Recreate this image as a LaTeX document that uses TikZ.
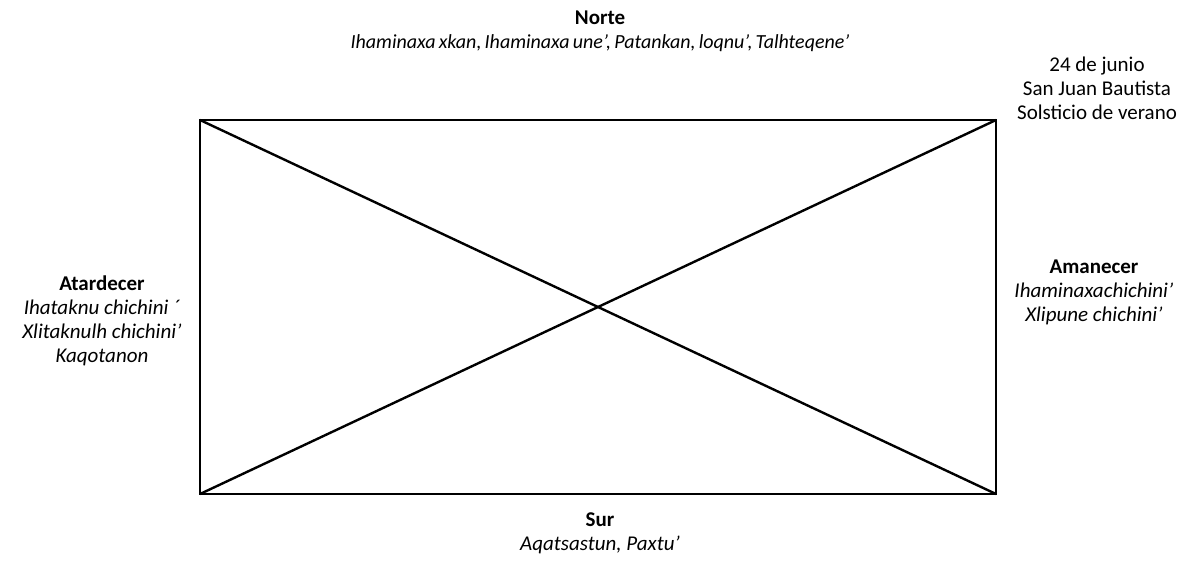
\documentclass[tikz,border=0pt]{standalone}
\usepackage{fontspec}
\setmainfont{Carlito}
\begin{document}
\begin{tikzpicture}[x=1pt,y=-1pt,
  lbl/.style={align=center,inner sep=0pt,font=\fontsize{21}{24}\selectfont},
  edge/.style={line width=2.4pt,line join=miter}]
\useasboundingbox (0,0) rectangle (1185,567);
\coordinate (tl) at (200,120);
\coordinate (tr) at (996,120);
\coordinate (br) at (996,494);
\coordinate (bl) at (200,494);
\draw[edge] (tl) -- (tr) -- (br) -- (bl) -- cycle;
\draw[edge] (tl) -- (br);
\draw[edge] (bl) -- (tr);
\node[lbl] (norte) at (600,31) {\textbf{Norte}\\{\fontsize{20}{24}\selectfont\itshape\spaceskip=0.16em Ihaminaxa xkan, Ihaminaxa une’, Patankan, loqnu’, Talhteqene’}};
\node[lbl] (junio) at (1097,88.5) {24 de junio\\San Juan Bautista\\Solsticio de verano};
\node[lbl] (atardecer) at (102,321) {\textbf{Atardecer}\\\textit{Ihataknu chichini ´}\\\textit{Xlitaknulh chichini’}\\\textit{Kaqotanon}};
\node[lbl] (amanecer) at (1094,292) {\textbf{Amanecer}\\\textit{Ihaminaxachichini’}\\\textit{Xlipune chichini’}};
\node[lbl] (sur) at (600,533.5) {\textbf{Sur}\\\textit{Aqatsastun, Paxtu’}};
\end{tikzpicture}
\end{document}
